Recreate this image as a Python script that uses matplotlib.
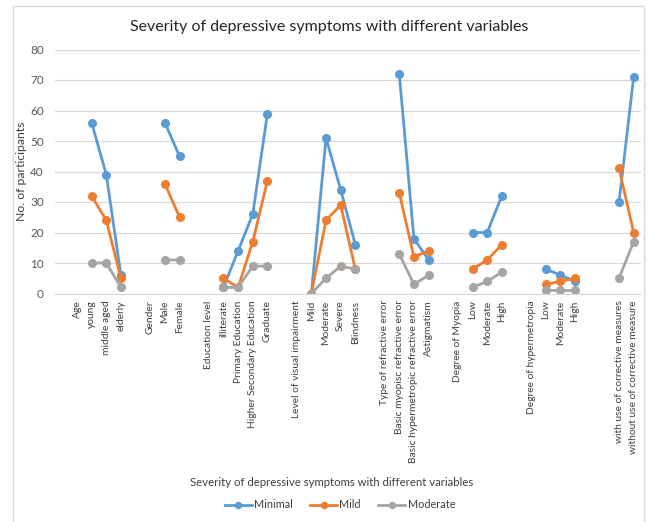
import numpy as np
import matplotlib
matplotlib.use("Agg")
import matplotlib.pyplot as plt
from matplotlib.patches import Rectangle

plt.rcParams['font.family'] = ['Lato', 'DejaVu Sans']

categories = ["", "Age", "young", "middle aged", "elderly", "",
              "Gender", "Male", "Female", "",
              "Education level", "illiterate", "Primary Education",
              "Higher Secondary Education", "Graduate", "",
              "Level of visual impairment", "Mild", "Moderate", "Severe", "Blindness", "",
              "Type of refractive error", "Basic myopisc refractive error",
              "Basic hypermetropic refractive error", "Astigmatism", "",
              "Degree of Myopia", "Low", "Moderate", "High", "",
              "Degree of hypermetropia", "Low", "Moderate", "High", "", "",
              "with use of corrective measures", "without use of corrective measure"]

n = np.nan
minimal = [n, n, 56, 39, 6, n, n, 56, 45, n, n, 2, 14, 26, 59, n,
           n, 0, 51, 34, 16, n, n, 72, 18, 11, n, n, 20, 20, 32, n,
           n, 8, 6, 4, n, n, 30, 71]
mild = [n, n, 32, 24, 5, n, n, 36, 25, n, n, 5, 2, 17, 37, n,
        n, 0, 24, 29, 8, n, n, 33, 12, 14, n, n, 8, 11, 16, n,
        n, 3, 4, 5, n, n, 41, 20]
moderate = [n, n, 10, 10, 2, n, n, 11, 11, n, n, 2, 2, 9, 9, n,
            n, 0, 5, 9, 8, n, n, 13, 3, 6, n, n, 2, 4, 7, n,
            n, 1, 1, 1, n, n, 5, 17]

series = [("Minimal", minimal, "#5B9BD5"),
          ("Mild", mild, "#ED7D31"),
          ("Moderate", moderate, "#A5A5A5")]

fig = plt.figure(figsize=(6.5, 5.22), dpi=100)
fig.patches.append(Rectangle((12.5 / 650, -0.01), (644 - 12.5) / 650, 1 - 6 / 522 + 0.01,
                             transform=fig.transFigure, fill=False,
                             edgecolor="#D9D9D9", linewidth=1.0))

ax = fig.add_axes([55 / 650, 1 - 293.5 / 522, (641 - 55) / 650, (293.5 - 49.5) / 522])
x = np.arange(len(categories))
for name, vals, col in series:
    ax.plot(x, vals, color=col, linewidth=2.0, marker="o", markersize=5.5, label=name)

ax.set_xlim(-0.5, len(categories) - 0.5)
ax.set_ylim(0, 80)
ax.set_yticks(range(0, 81, 10))
ax.yaxis.grid(True, color="#D9D9D9", linewidth=0.9)
ax.set_axisbelow(True)
for s in ["top", "right", "left"]:
    ax.spines[s].set_visible(False)
ax.spines["bottom"].set_color("#D9D9D9")
ax.set_xticks(x)
ax.set_xticklabels(categories, rotation=90, fontsize=7.4, color="#404040")
ax.tick_params(axis="x", length=0, pad=5)
ax.tick_params(axis="y", length=0, labelsize=8.5, colors="#595959", pad=8)
ax.set_ylabel("No. of participants", fontsize=8.8, color="#404040")
ax.yaxis.set_label_coords((27 - 55) / 586, 0.5)

fig.text(0.506, 1 - 27 / 522, "Severity of depressive symptoms with different variables",
         ha="center", va="center", fontsize=11.5, color="#262626")
fig.text(0.51, 1 - 483 / 522, "Severity of depressive symptoms with different variables",
         ha="center", va="center", fontsize=8.2, color="#404040")
fig.legend(loc="center", bbox_to_anchor=(0.523, 1 - 505 / 522), ncol=3, frameon=False,
           fontsize=7.8, handlelength=2.5, columnspacing=1.6, handletextpad=0.2,
           labelcolor="#404040", markerscale=0.8)

fig.savefig("out.png", dpi=100)
